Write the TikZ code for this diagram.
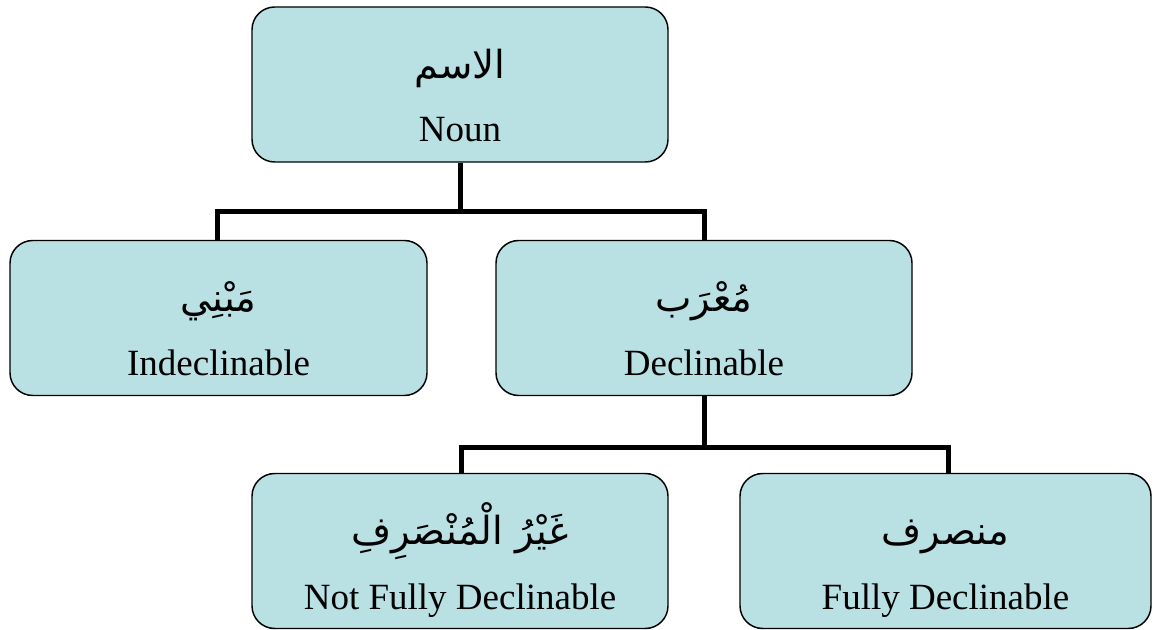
\documentclass[tikz,border=0pt]{standalone}
\usepackage{fontspec}
\setmainfont{Liberation Serif}
\newfontfamily\arabicfont[Script=Arabic]{DejaVu Sans}
\TeXXeTstate=1
\usetikzlibrary{calc}
\definecolor{boxfill}{RGB}{185,224,227}
\begin{document}
\begin{tikzpicture}[x=0.75pt,y=-0.75pt,
  box/.style={draw=black, line width=1.1pt, fill=boxfill, rounded corners=17pt, inner sep=0pt, minimum height=116.25pt},
  en/.style={anchor=base, font=\fontsize{27.75}{30}\selectfont, inner sep=0pt},
  ar/.style={anchor=base, font=\arabicfont\fontsize{29}{32}\selectfont, inner sep=0pt},
  conn/.style={line width=3.75pt, line join=miter}]
\useasboundingbox (0,0) rectangle (1153,630);
% boxes
\node[box, minimum width=312pt] (noun) at (460,84.5) {};
\node[box, minimum width=312.75pt] (mabni) at (218.5,318) {};
\node[box, minimum width=312pt] (murab) at (704,318) {};
\node[box, minimum width=312pt] (ghayr) at (460,551) {};
\node[box, minimum width=308.25pt] (munsarif) at (945.5,551) {};
% texts
\node[ar] (nounar) at ($(noun.center)+(0,-6)$) {\beginR الاسم\endR};
\node[en] (nounen) at ($(noun.center)+(0,57.5)$) {Noun};
\node[ar] (mabniar) at ($(mabni.center)+(0,-6)$) {\beginR مَبْنِي\endR};
\node[en] (mabnien) at ($(mabni.center)+(0,58)$) {Indeclinable};
\node[ar] (murabar) at ($(murab.center)+(0,-6)$) {\beginR مُعْرَب\endR};
\node[en] (muraben) at ($(murab.center)+(0,58)$) {Declinable};
\node[ar] (ghayrar) at ($(ghayr.center)+(0,-6)$) {\beginR غَيْرُ الْمُنْصَرِفِ\endR};
\node[en] (ghayren) at ($(ghayr.center)+(0,58)$) {Not Fully Declinable};
\node[ar] (munsarifar) at ($(munsarif.center)+(0,-6)$) {\beginR منصرف\endR};
\node[en] (munsarifen) at ($(munsarif.center)+(0,58)$) {Fully Declinable};
% connectors
\coordinate (j1) at (460,212);
\coordinate (j2) at (704,448);
\draw[conn] (noun.south) -- (j1);
\draw[conn] ($(mabni.north)+(-1.5,0)$) |- (j1);
\draw[conn] (murab.north) |- (j1);
\draw[conn] (murab.south) -- (j2);
\draw[conn] ($(ghayr.north)+(1,0)$) |- (j2);
\draw[conn] ($(munsarif.north)+(2.5,0)$) |- (j2);
\end{tikzpicture}
\end{document}
